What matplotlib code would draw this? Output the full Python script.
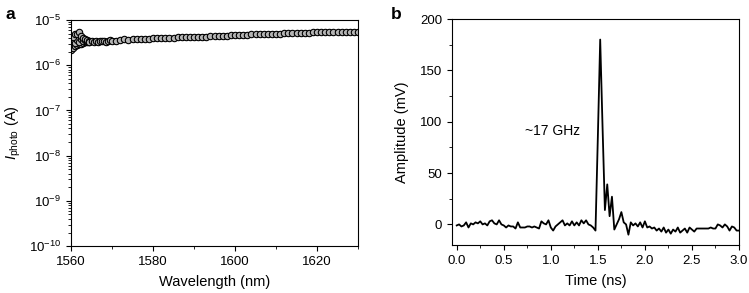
import matplotlib
matplotlib.use("Agg")
import matplotlib.pyplot as plt
from matplotlib.ticker import MultipleLocator, LogLocator, NullFormatter, FormatStrFormatter

plt.rcParams['font.family'] = ['Liberation Sans', 'DejaVu Sans']
plt.rcParams['mathtext.fontset'] = 'custom'
plt.rcParams['mathtext.rm'] = 'Liberation Sans'
plt.rcParams['mathtext.it'] = 'Liberation Sans:italic'
plt.rcParams['font.size'] = 9.5

# Panel a: photocurrent vs wavelength (main sweep)
wl_a = [1564.5, 1565.0, 1565.5, 1566.0, 1566.5, 1567, 1567.5, 1568, 1568.5, 1569, 1569.5,
        1570, 1571, 1572, 1573, 1574, 1575, 1576, 1577, 1578, 1579,
        1580, 1581, 1582, 1583, 1584, 1585, 1586, 1587, 1588, 1589,
        1590, 1591, 1592, 1593, 1594, 1595, 1596, 1597, 1598, 1599,
        1600, 1601, 1602, 1603, 1604, 1605, 1606, 1607, 1608, 1609,
        1610, 1611, 1612, 1613, 1614, 1615, 1616, 1617, 1618, 1619,
        1620, 1621, 1622, 1623, 1624, 1625, 1626, 1627, 1628, 1629, 1630]
cur_a = [3.3e-6, 3.4e-6, 3.3e-6, 3.4e-6, 3.3e-6, 3.4e-6, 3.5e-6, 3.4e-6, 3.3e-6, 3.5e-6, 3.6e-6,
         3.5e-6, 3.5e-6, 3.6e-6, 3.7e-6, 3.6e-6, 3.7e-6, 3.7e-6, 3.7e-6, 3.8e-6, 3.8e-6,
         3.9e-6, 3.9e-6, 3.9e-6, 4.0e-6, 4.0e-6, 4.0e-6, 4.1e-6, 4.1e-6, 4.1e-6, 4.2e-6,
         4.2e-6, 4.3e-6, 4.3e-6, 4.3e-6, 4.4e-6, 4.4e-6, 4.5e-6, 4.5e-6, 4.5e-6, 4.6e-6,
         4.6e-6, 4.7e-6, 4.7e-6, 4.7e-6, 4.8e-6, 4.8e-6, 4.9e-6, 4.9e-6, 4.9e-6, 5.0e-6,
         5.0e-6, 5.0e-6, 5.1e-6, 5.1e-6, 5.1e-6, 5.2e-6, 5.2e-6, 5.2e-6, 5.2e-6, 5.3e-6,
         5.3e-6, 5.3e-6, 5.3e-6, 5.4e-6, 5.4e-6, 5.4e-6, 5.4e-6, 5.4e-6, 5.5e-6, 5.5e-6, 5.5e-6]
# Panel a: scattered branches at the start of the sweep
wl_a_start = [1560.0, 1560.5, 1561.0, 1561.5, 1562.0, 1562.5, 1563.0, 1563.5, 1564.0, 1564.5]
cur_a_low = [2.2e-6, 2.4e-6, 2.6e-6, 2.8e-6, 2.9e-6, 3.0e-6, 3.1e-6, 3.2e-6, 3.3e-6, 3.3e-6]
cur_a_mid = [3.2e-6, 3.5e-6, 3.1e-6, 3.6e-6, 3.3e-6, 3.7e-6, 3.4e-6, 3.6e-6, 3.4e-6, 3.4e-6]
cur_a_high = [4.5e-6, 4.3e-6, 4.8e-6, 5.0e-6, 5.4e-6, 4.4e-6, 4.0e-6, 3.8e-6, 3.6e-6, 3.5e-6]

# Panel b: pulse response
t_b = [i * 0.025 for i in range(121)]
amp_b = [
    -1, 0, -2, -1, 2, -3, 1, 0, 2, 1,          # 0.000-0.225
    3, 0, 1, -1, 3, 4, 1, 0, 4, 0,              # 0.250-0.475
    -1, -3, -1, -2, -2, -4, 2, -3, -3, -3,      # 0.500-0.725
    -2, -2, -3, -2, -3, -4, 3, 1, 0, 4,         # 0.750-0.975
    -3, -6, -2, 0, 2, 4, -1, 1, -1, 3,          # 1.000-1.225
    -1, 2, -1, 4, 1, 4, 0, -1, -3, -6,          # 1.250-1.475
    85, 180, 95, 14, 39, 8, 27, -5, 0, 5,       # 1.500-1.725
    12, 2, 0, -10, 2, -1, 1, -2, 2, -3,         # 1.750-1.975
    3, -3, -2, -4, -3, -6, -4, -7, -3, -8,      # 2.000-2.225
    -5, -9, -5, -7, -3, -8, -6, -4, -8, -3,     # 2.250-2.475
    -5, -7, -4, -4, -4, -4, -4, -4, -3, -4,     # 2.500-2.725
    -4, 0, -1, -3, 0, -2, -6, -2, -3, -6, -6    # 2.750-3.000
]

fig = plt.figure(figsize=(7.49, 2.93), dpi=100)

mk = dict(linestyle='-', color='black', linewidth=3.2, marker='o', markersize=4.6,
          markerfacecolor='#b5b5b5', markeredgecolor='black', markeredgewidth=0.8)

# ---- Panel a
ax1 = fig.add_axes([0.0948, 0.160, 0.3832, 0.772])
ax1.plot(wl_a_start, cur_a_low, **mk)
ax1.plot(wl_a_start, cur_a_mid, **mk)
ax1.plot(wl_a_start, cur_a_high, **mk)
ax1.plot(wl_a, cur_a, **mk)
ax1.set_yscale('log')
ax1.set_xlim(1560, 1630)
ax1.set_ylim(1e-10, 1e-5)
ax1.xaxis.set_major_locator(MultipleLocator(20))
ax1.xaxis.set_minor_locator(MultipleLocator(10))
ax1.yaxis.set_major_locator(LogLocator(base=10, numticks=10))
ax1.yaxis.set_minor_locator(LogLocator(base=10, subs=range(2, 10), numticks=20))
ax1.yaxis.set_minor_formatter(NullFormatter())
ax1.set_xlabel('Wavelength (nm)', fontsize=10.5, labelpad=5)
ax1.set_ylabel(r'$I_{\rm photo}$ (A)', fontsize=10.5, labelpad=4)
ax1.tick_params(which='both', direction='out', top=False, right=False, labelsize=9.5)
ax1.tick_params(which='major', length=3.5)
ax1.tick_params(which='minor', length=2)
fig.text(0.008, 0.935, 'a', fontsize=12.5, fontweight='bold')

# ---- Panel b
ax2 = fig.add_axes([0.6035, 0.164, 0.3831, 0.771])
ax2.plot(t_b, amp_b, color='black', linewidth=1.3)
ax2.set_xlim(-0.05, 3.0)
ax2.set_ylim(-20, 200)
ax2.xaxis.set_major_locator(MultipleLocator(0.5))
ax2.xaxis.set_minor_locator(MultipleLocator(0.25))
ax2.yaxis.set_major_locator(MultipleLocator(50))
ax2.yaxis.set_minor_locator(MultipleLocator(25))
ax2.xaxis.set_major_formatter(FormatStrFormatter('%.1f'))
ax2.set_xlabel('Time (ns)', fontsize=10.5, labelpad=5)
ax2.set_ylabel('Amplitude (mV)', fontsize=10.5, labelpad=8)
ax2.tick_params(which='both', direction='out', top=False, right=False, labelsize=9.5)
ax2.tick_params(which='major', length=3.5)
ax2.tick_params(which='minor', length=2)
ax2.text(1.02, 91, '~17 GHz', fontsize=10, ha='center', va='center')
fig.text(0.522, 0.935, 'b', fontsize=12.5, fontweight='bold')

fig.savefig('out.png', dpi=100)
